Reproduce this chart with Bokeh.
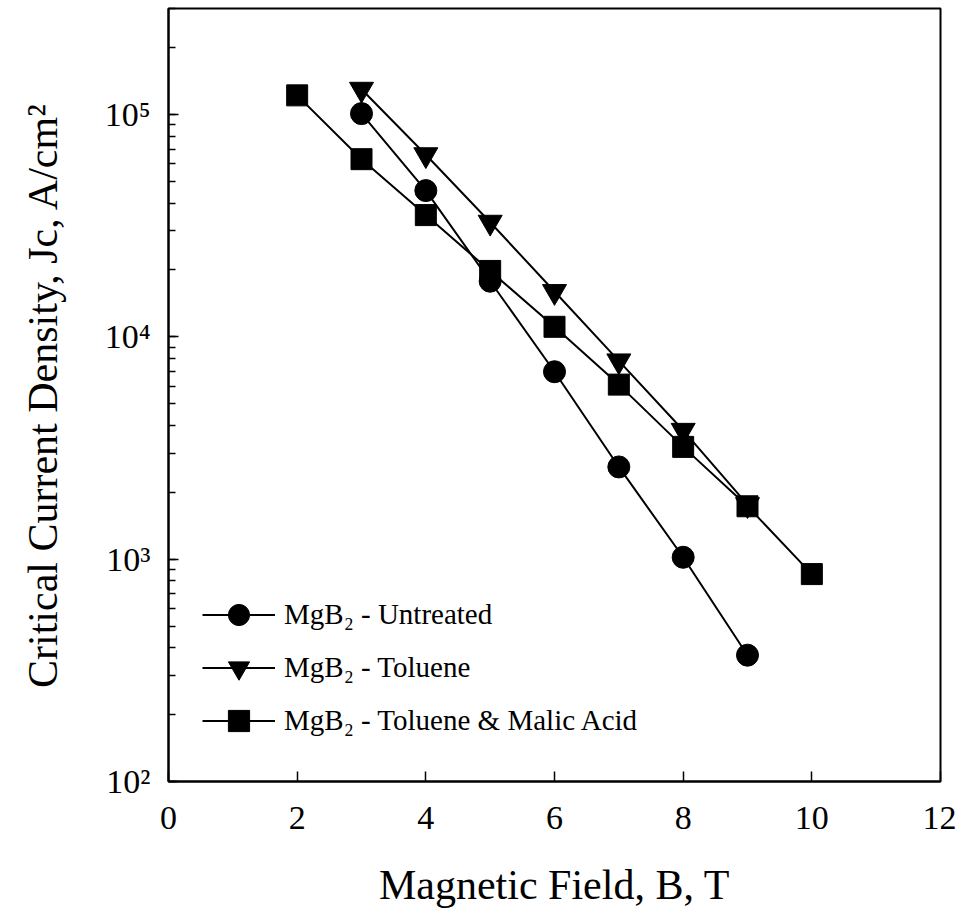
from bokeh.plotting import figure
from bokeh.models import (Range1d, Legend, LegendItem, SingleIntervalTicker,
                          LogTicker, CustomJSTickFormatter)
from bokeh.embed import file_html
from bokeh.resources import INLINE

# ---- data ----
field_untreated = [3, 4, 5, 6, 7, 8, 9]
jc_untreated = [1.01e5, 4.55e4, 1.78e4, 6.97e3, 2.6e3, 1.02e3, 3.7e2]

field_toluene = [3, 4, 5, 6, 7, 8, 9]
jc_toluene = [1.3e5, 6.6e4, 3.28e4, 1.6e4, 7.8e3, 3.8e3, 1.76e3]

field_malic = [2, 3, 4, 5, 6, 7, 8, 9, 10]
jc_malic = [1.22e5, 6.3e4, 3.53e4, 1.98e4, 1.11e4, 6.1e3, 3.2e3, 1.73e3, 8.57e2]

series_labels = ["MgB\u2082 - Untreated", "MgB\u2082 - Toluene", "MgB\u2082 - Toluene & Malic Acid"]
x_title = "Magnetic Field, B, T"
y_title = "Critical Current Density, Jc, A/cm\u00b2"
x_ticks_interval = 2
FONT = "Liberation Serif"

p = figure(width=956, height=918, y_axis_type="log",
           x_range=Range1d(0, 12), y_range=Range1d(100, 3e5),
           output_backend="svg", toolbar_location=None,
           min_border_left=168, min_border_right=16, min_border_top=8,
           min_border_bottom=137)
p.background_fill_color = "white"
p.border_fill_color = "white"
p.outline_line_color = "black"
p.outline_line_width = 2
p.xgrid.visible = False
p.ygrid.visible = False

xa = p.xaxis[0]
ya = p.yaxis[0]
xa.ticker = SingleIntervalTicker(interval=x_ticks_interval, num_minor_ticks=0)
ya.ticker = LogTicker(desired_num_ticks=4, num_minor_ticks=10)
ya.formatter = CustomJSTickFormatter(code="""
const sup = {"0":"\u2070","1":"\u00b9","2":"\u00b2","3":"\u00b3","4":"\u2074","5":"\u2075","6":"\u2076","7":"\u2077","8":"\u2078","9":"\u2079","-":"\u207b"};
const e = Math.round(Math.log10(tick));
return "10" + String(e).split("").map(c => sup[c]).join("");
""")
for ax in (xa, ya):
    ax.axis_line_width = 2
    ax.axis_line_color = "black"
    ax.major_tick_in = 10
    ax.major_tick_out = 0
    ax.major_tick_line_width = 1.5
    ax.major_tick_line_color = "black"
    ax.major_label_text_font = FONT
    ax.major_label_text_font_size = "34px"
    ax.major_label_text_color = "black"
    ax.axis_label_text_font = FONT
    ax.axis_label_text_font_size = "42px"
    ax.axis_label_text_font_style = "normal"
    ax.axis_label_text_color = "black"
xa.major_label_standoff = 25
ya.major_label_standoff = 18
xa.axis_label = x_title
ya.axis_label = y_title
xa.axis_label_standoff = 30
ya.axis_label_standoff = 36
xa.minor_tick_line_color = None
ya.minor_tick_in = 7
ya.minor_tick_out = 0
ya.minor_tick_line_width = 1.5
ya.minor_tick_line_color = "black"

# ---- series ----
l1 = p.line(field_untreated, jc_untreated, line_color="black", line_width=2)
l2 = p.line(field_toluene, jc_toluene, line_color="black", line_width=2)
l3 = p.line(field_malic, jc_malic, line_color="black", line_width=2)
s1 = p.scatter(field_untreated, jc_untreated, marker="circle", size=22,
               fill_color="black", line_color="black")
s2 = p.scatter(field_toluene, jc_toluene, marker="inverted_triangle", size=24,
               fill_color="black", line_color="black")
s3 = p.scatter(field_malic, jc_malic, marker="square", size=21,
               fill_color="black", line_color="black")

legend = Legend(items=[LegendItem(label=series_labels[0], renderers=[l1, s1]),
                       LegendItem(label=series_labels[1], renderers=[l2, s2]),
                       LegendItem(label=series_labels[2], renderers=[l3, s3])],
                location=(34, 34), padding=0, margin=0, spacing=0,
                glyph_width=73, glyph_height=53, label_height=53,
                label_standoff=9, label_text_font=FONT,
                label_text_font_size="29px", label_text_color="black",
                border_line_color=None, background_fill_alpha=0)
p.add_layout(legend)

open("out.html", "w").write(file_html(p, INLINE))
